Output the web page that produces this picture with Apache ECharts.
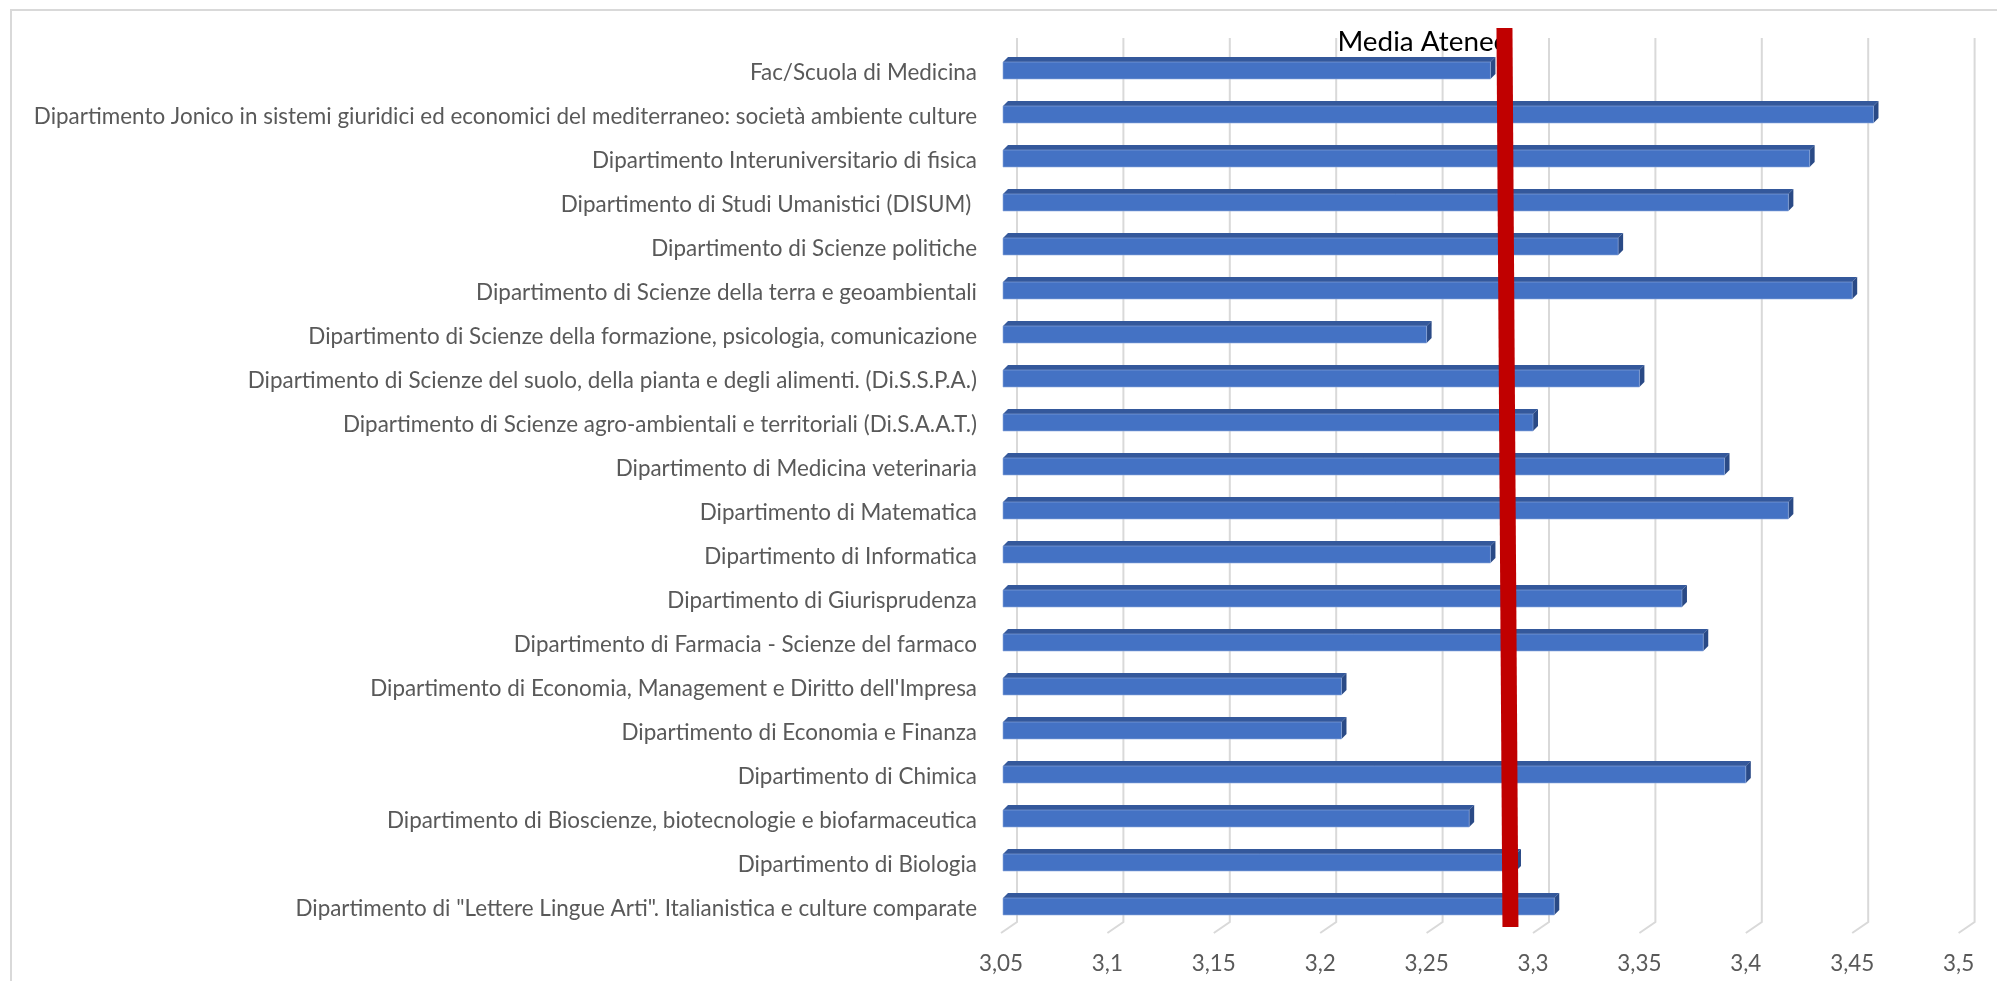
<!DOCTYPE html>
<html>
<head>
<meta charset="utf-8">
<script src="https://cdn.jsdelivr.net/npm/echarts@6/dist/echarts.min.js"></script>
<style>
html,body{margin:0;padding:0;background:#fff;}
#chart{width:1997px;height:981px;}
</style>
</head>
<body>
<div id="chart"></div>
<script>
// ---- DATA ----
const categories = [
  "Fac/Scuola di Medicina",
  "Dipartimento Jonico in sistemi giuridici ed economici del mediterraneo: società ambiente culture",
  "Dipartimento Interuniversitario di fisica",
  "Dipartimento di Studi Umanistici (DISUM) ",
  "Dipartimento di Scienze politiche",
  "Dipartimento di Scienze della terra e geoambientali",
  "Dipartimento di Scienze della formazione, psicologia, comunicazione",
  "Dipartimento di Scienze del suolo, della pianta e degli alimenti. (Di.S.S.P.A.)",
  "Dipartimento di Scienze agro-ambientali e territoriali (Di.S.A.A.T.)",
  "Dipartimento di Medicina veterinaria",
  "Dipartimento di Matematica",
  "Dipartimento di Informatica",
  "Dipartimento di Giurisprudenza",
  "Dipartimento di Farmacia - Scienze del farmaco",
  "Dipartimento di Economia, Management e Diritto dell'Impresa",
  "Dipartimento di Economia e Finanza",
  "Dipartimento di Chimica",
  "Dipartimento di Bioscienze, biotecnologie e biofarmaceutica",
  "Dipartimento di Biologia",
  "Dipartimento di \"Lettere Lingue Arti\". Italianistica e culture comparate"
];
const values = [3.28, 3.46, 3.43, 3.42, 3.34, 3.45, 3.25, 3.35, 3.30, 3.39, 3.42, 3.28, 3.37, 3.38, 3.21, 3.21, 3.40, 3.27, 3.292, 3.31];
const mediaAteneo = 3.288;
const mediaLabel = "Media Ateneo";
const xTicks = [3.05, 3.1, 3.15, 3.2, 3.25, 3.3, 3.35, 3.4, 3.45, 3.5];
const xMin = 3.05, xMax = 3.5, xStep = 0.05;

// ---- font fitting (style only) ----
const FONT = "Lato, 'Open Sans', sans-serif";
const cv = document.createElement('canvas').getContext('2d');
function fitSize(text, target, fam){ cv.font = '100px ' + fam; return 100 * target / cv.measureText(text).width; }
const labelSize = fitSize(categories[1], 944, FONT);
const mediaSize = fitSize(mediaLabel, 172, FONT);

const chart = echarts.init(document.getElementById('chart'));

const barItems = values.map((v, i) => [v, i]);

const option = {
  animation: false,
  backgroundColor: '#ffffff',
  graphic: [{
    type: 'rect', z: 0, silent: true,
    shape: { x: 11, y: 10, width: 3000, height: 3000 },
    style: { fill: 'none', stroke: '#d9d9d9', lineWidth: 2 }
  }],
  grid: { left: 1001, right: 38.4, top: 51, bottom: 50, containLabel: false },
  xAxis: {
    type: 'value', min: xMin, max: xMax, interval: xStep,
    axisLine: { show: false }, axisTick: { show: false }, splitLine: { show: false },
    axisLabel: {
      color: '#595959', fontFamily: FONT, fontSize: labelSize, margin: 22,
      formatter: v => String(+v.toFixed(2)).replace('.', ',')
    }
  },
  yAxis: {
    type: 'category', data: categories, inverse: true,
    axisLine: { show: false }, axisTick: { show: false }, splitLine: { show: false },
    axisLabel: { color: '#595959', fontFamily: FONT, fontSize: labelSize, margin: 24 }
  },
  series: [
    {
      // back-wall gridlines with floor slant
      type: 'custom', z: 1, silent: true,
      data: xTicks.map(t => [t, 0]),
      encode: { x: 0, y: 1 },
      renderItem: (params, api) => {
        const cs = params.coordSys;
        const x = api.coord([api.value(0), 0])[0];
        const top = cs.y - 13, floorBack = cs.y + cs.height - 9, floorFront = cs.y + cs.height + 2;
        return {
          type: 'polyline',
          shape: { points: [[x + 16, top], [x + 16, floorBack], [x, floorFront]] },
          style: { stroke: '#d9d9d9', lineWidth: 2, fill: 'none' }
        };
      }
    },
    {
      type: 'custom', z: 2, silent: true,
      data: barItems,
      encode: { x: 0, y: 1 },
      renderItem: (params, api) => {
        const p1 = api.coord([api.value(0), api.value(1)]);
        const p0 = api.coord([xMin, api.value(1)]);
        const h = 17, d = 5;
        const cy = p1[1] - 2.5;
        const yt = cy - h / 2, yb = cy + h / 2;
        const x0 = p0[0] + 2, x1 = p1[0];
        return {
          type: 'group',
          children: [
            { type: 'polygon', shape: { points: [[x0, yt], [x0 + d, yt - d], [x1 + d, yt - d], [x1, yt]] },
              style: { fill: '#34589b' } },
            { type: 'polygon', shape: { points: [[x1, yt], [x1 + d, yt - d], [x1 + d, yb - d], [x1, yb]] },
              style: { fill: '#2a4a86' } },
            { type: 'rect', shape: { x: x0, y: yt, width: x1 - x0, height: h },
              style: { fill: '#4472c4', stroke: '#8fa9dc', lineWidth: 0.6 } }
          ]
        };
      }
    },
    {
      type: 'custom', z: 4, silent: true,
      data: [[mediaAteneo, 0]],
      encode: { x: 0, y: 1 },
      renderItem: (params, api) => {
        const cs = params.coordSys;
        const x = api.coord([api.value(0), 0])[0];
        const top = cs.y - 23, bot = cs.y + cs.height - 4, w = 16;
        return {
          type: 'group',
          children: [
            { type: 'text', z2: 1,
              style: { text: mediaLabel, x: x - 170, y: cs.y - 9, fill: '#000000',
                       font: mediaSize + 'px ' + FONT, textAlign: 'left', textVerticalAlign: 'middle' } },
            { type: 'polygon', z2: 2,
              shape: { points: [[x - 3 - w / 2, top], [x - 3 + w / 2, top], [x + 3 + w / 2, bot], [x + 3 - w / 2, bot]] },
              style: { fill: '#c00000' } }
          ]
        };
      }
    }
  ]
};
chart.setOption(option);
</script>
</body>
</html>
